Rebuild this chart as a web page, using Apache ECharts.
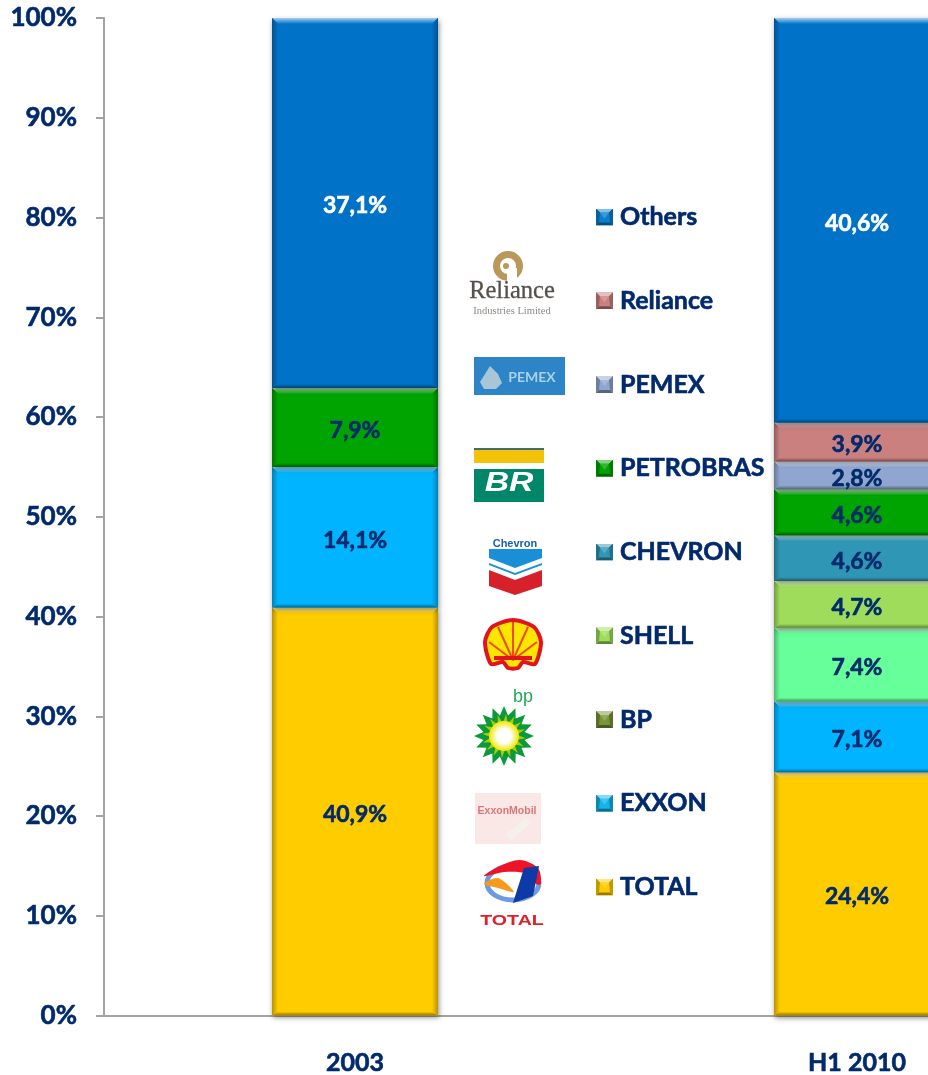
<!DOCTYPE html>
<html><head><meta charset="utf-8">
<style>html,body{margin:0;padding:0;background:#fff;overflow:hidden}#c{width:928px;height:1075px}</style>
<script src="https://cdn.jsdelivr.net/npm/echarts@6/dist/echarts.min.js"></script>
</head><body><div id="c"></div>
<script>
const categories = ['2003', 'H1 2010'];
const yTicksMax = 100;
const seriesNames = ['TOTAL','EXXON','BP','SHELL','CHEVRON','PETROBRAS','PEMEX','Reliance','Others'];
const TOTAL     = [40.9, 24.4];
const EXXON     = [14.1, 7.1];
const BP        = [null, 7.4];
const SHELL     = [null, 4.7];
const CHEVRON   = [null, 4.6];
const PETROBRAS = [7.9, 4.6];
const PEMEX     = [null, 2.8];
const Reliance  = [null, 3.9];
const Others    = [37.1, 40.6];
const seriesValues = [TOTAL,EXXON,BP,SHELL,CHEVRON,PETROBRAS,PEMEX,Reliance,Others];
const barColors    = ['#ffcc00','#00b4ff','#66ff99','#9fdc5c','#2f97b5','#00a400','#90a6d0','#cb8080','#0072c8'];
const legendColors = ['#ffcc00','#12b5e8','#7a9438','#9fdc5c','#2f97b5','#00a400','#90a6d0','#cb8080','#0a7fd0'];
const labelColors  = ['#002a6c','#002a6c','#002a6c','#002a6c','#002a6c','#002a6c','#002a6c','#002a6c','#ffffff'];

const NAVY = '#002a6c', GREY = '#a3a3a3', FONT = 'Lato';

function mix(hex, target, t){
  const p = s => [1,3,5].map(i => parseInt(s.substr(i,2),16));
  const a = p(hex), b = p(target);
  return 'rgb(' + a.map((v,i) => Math.round(v + (b[i]-v)*t)).join(',') + ')';
}
function grad(x0,y0,x1,y1,c0,c1){ return new echarts.graphic.LinearGradient(x0,y0,x1,y1,[{offset:0,color:c0},{offset:1,color:c1}]); }
function bevelIcon(c){
  const svg = '<svg xmlns="http://www.w3.org/2000/svg" width="17" height="17">' +
    '<rect width="17" height="17" fill="'+c+'"/>' +
    '<polygon points="0,0 17,0 13,4 4,4" fill="'+mix(c,'#ffffff',.5)+'"/>' +
    '<polygon points="4,4 13,4 8.5,10" fill="'+mix(c,'#ffffff',.2)+'"/>' +
    '<polygon points="0,17 17,17 14,14 3,14" fill="'+mix(c,'#000000',.4)+'"/>' +
    '<polygon points="0,0 4,4 3,14 0,17" fill="'+mix(c,'#000000',.25)+'"/>' +
    '<polygon points="17,0 13,4 14,14 17,17" fill="'+mix(c,'#000000',.25)+'"/></svg>';
  return 'image://data:image/svg+xml;charset=utf-8,' + encodeURIComponent(svg);
}
function columnTotal(i){ return seriesValues.reduce((s,v) => s + (v[i] || 0), 0); }
function baseBelow(si, i){ let s = 0; for (let k = 0; k < si; k++) s += seriesValues[k][i] || 0; return s; }

function makeRender(si){
  return function(params, api){
    const i = api.value(0), v = api.value(1);
    if (!(v > 0)) return null;
    const norm = 100 / columnTotal(i);
    const lo = baseBelow(si, i) * norm, hi = lo + v * norm;
    const pLo = api.coord([i, lo]), pHi = api.coord([i, hi]);
    const w = api.size([1, 0])[0] * 166 / 502;
    const x = pLo[0] - w/2, y = pHi[1], h = pLo[1] - pHi[1];
    const c = barColors[si], b = 6, bb = 4, r = x + w, B = y + h;
    const dark = mix(c,'#000000',.42), dk2 = mix(c,'#000000',.28), lt = mix(c,'#ffffff',.65);
    const els = [
      {type:'rect', shape:{x,y,width:w,height:h}, style:{fill:c, shadowBlur:5, shadowColor:'rgba(0,0,0,.45)', shadowOffsetX:1, shadowOffsetY:2}},
      {type:'polygon', shape:{points:[[x,y],[r,y],[r-b,y+b],[x+b,y+b]]}, style:{fill:grad(0,0,0,1,lt,c)}},
      {type:'polygon', shape:{points:[[x,B],[r,B],[r-b,B-bb],[x+b,B-bb]]}, style:{fill:grad(0,1,0,0,dark,c)}},
      {type:'polygon', shape:{points:[[x,y],[x+b,y+b],[x+b,B-bb],[x,B]]}, style:{fill:grad(0,0,1,0,dk2,c)}},
      {type:'polygon', shape:{points:[[r,y],[r-b,y+b],[r-b,B-bb],[r,B]]}, style:{fill:grad(1,0,0,0,dk2,c)}},
      {type:'text', style:{text:v.toFixed(1).replace('.',',')+'%', x:pLo[0], y:y+h/2+3, align:'center', verticalAlign:'middle',
        fill:labelColors[si], stroke:labelColors[si], lineWidth:.6, font:'bold 23px '+FONT}}
    ];
    return {type:'group', children:els};
  };
}

function logos(){
  const g = [];
  const rect=(x,y,width,height,fill)=>g.push({type:'rect',shape:{x,y,width,height},style:{fill},silent:true});
  const txt=(text,x,y,font,fill,extra,scaleX)=>g.push({type:'text',x,y,scaleX:scaleX||1,silent:true,style:Object.assign({text,font,fill,align:'center',verticalAlign:'middle'},extra||{})});
  const poly=(points,fill,smooth,stroke,lw)=>g.push({type:'polygon',shape:{points,smooth:smooth||0},style:{fill,stroke,lineWidth:lw||0},silent:true});
  // Reliance
  g.push({type:'ring',shape:{cx:508,cy:266,r:15,r0:8},style:{fill:'#b9985a'},silent:true});
  rect(507,268,10,13,'#ffffff');
  g.push({type:'circle',shape:{cx:506,cy:266,r:3},style:{fill:'#b9985a'},silent:true});
  txt('Reliance',512,292,'24.5px "Liberation Serif"','#55504c',{stroke:'#55504c',lineWidth:.3});
  txt('Industries Limited',512,311,'10.5px "Liberation Serif"','#8d8985');
  // Pemex
  rect(474,357,91,38,'#2d84c6');
  poly([[490,366],[498,374],[502,383],[496,389],[484,389],[480,382]],'#a9c6d8');
  txt('PEMEX',532,377,'bold 14px '+FONT,'#a9d0e8');
  // Petrobras
  rect(474,448,70,54,'#00876a');
  rect(474,448,70,2,'#3d6f6f');
  rect(474,450,70,13,'#f4c20a');
  rect(474,463,70,6,'#ffffff');
  txt('BR',509,484,'italic bold 27px "Liberation Sans"','#ffffff',null,1.25);
  // Chevron
  txt('Chevron',515,544,'bold 11px "Liberation Sans"','#1d5fae');
  poly([[489,549],[542,549],[542,565],[515,575],[489,565]],'#1a8fd8');
  poly([[489,558],[515,568],[542,558],[542,563],[515,573],[489,563]],'#ffffff');
  poly([[489,568],[515,578],[542,568],[542,586],[515,595],[489,586]],'#d6202a');
  poly([[489,566],[515,576],[542,566],[542,570],[515,580],[489,570]],'#ffffff');
  // Shell
  poly([[491,664],[485,642],[492,627],[513,620],[534,627],[541,642],[535,664],[523,662],[518,668],[508,668],[503,662]],'#ffe600',.25,'#e2141b',4);
  for (const [x1,y1] of [[489,642],[498,627],[513,622],[528,627],[537,642]])
    g.push({type:'line',shape:{x1,y1,x2:513,y2:660},style:{stroke:'#ef4a10',lineWidth:2},silent:true});
  g.push({type:'line',shape:{x1:494,y1:658,x2:532,y2:658},style:{stroke:'#e2141b',lineWidth:4},silent:true});
  // BP
  txt('bp',523,697,'18px "Liberation Sans"','#1fa85a');
  const sun=[];const cx=504,cy=736;
  for(let k=0;k<32;k++){const a=k*Math.PI/16,r=k%2?21:30;sun.push([cx+r*Math.cos(a),cy+r*Math.sin(a)]);}
  poly(sun,'#0a9a3c');
  const sun2=[];
  for(let k=0;k<32;k++){const a=(k+.5)*Math.PI/16,r=k%2?13:22;sun2.push([cx+r*Math.cos(a),cy+r*Math.sin(a)]);}
  poly(sun2,'#a8cc00');
  g.push({type:'circle',shape:{cx,cy,r:15},style:{fill:new echarts.graphic.RadialGradient(.5,.5,.5,[{offset:0,color:'#ffffff'},{offset:.45,color:'#ffffff'},{offset:1,color:'#f2e600'}])},silent:true});
  // Exxon
  rect(475,793,66,51,'#f9e8e6');
  txt('ExxonMobil',507,811,'bold 10.5px "Liberation Sans"','#d8787a');
  poly([[505,835],[525,818],[532,822],[512,840]],'#f4f0ea');
  // Total
  g.push({type:'ellipse',shape:{cx:513,cy:883,rx:26,ry:17},style:{fill:'#ffffff',stroke:'#6e9be0',lineWidth:5},silent:true});
  poly([[484,876],[500,866],[520,860],[538,868],[541,884],[536,884],[528,874],[505,872]],'#ee1427',.3);
  poly([[524,868],[539,866],[533,896],[513,903]],'#0e3aa8');
  poly([[484,884],[498,878],[514,892],[498,888]],'#f59a1c',.3);
  txt('TOTAL',512,921,'bold 14px "Liberation Sans"','#e0202a',null,1.4);
  return g;
}

const chart = echarts.init(document.getElementById('c'), null, {renderer:'canvas', width:928, height:1075});
const heavy = {textBorderColor:NAVY, textBorderWidth:.6};
chart.setOption({
  animation:false,
  graphic:logos(),
  legend:{
    orient:'vertical', left:591, top:196.5, itemWidth:17, itemHeight:17, itemGap:52.75, selectedMode:false,
    textStyle:Object.assign({color:NAVY, fontFamily:FONT, fontWeight:'bold', fontSize:25, lineHeight:30, padding:[1,0,0,2]},heavy),
    data:seriesNames.slice().reverse().map(n => ({name:n, icon:bevelIcon(legendColors[seriesNames.indexOf(n)])}))
  },
  grid:{left:104, top:18, width:1004, height:997.5, outerBoundsMode:'none'},
  xAxis:{type:'category', data:categories,
    axisLine:{lineStyle:{color:GREY,width:2}},
    axisTick:{length:8,lineStyle:{color:GREY,width:2},alignWithLabel:false},
    axisLabel:Object.assign({color:NAVY,fontFamily:FONT,fontWeight:'bold',fontSize:25,margin:35},heavy)},
  yAxis:{type:'value',min:0,max:yTicksMax,interval:10,
    axisLine:{show:true,lineStyle:{color:GREY,width:2}},
    axisTick:{show:true,length:8,lineStyle:{color:GREY,width:2}},
    splitLine:{show:false},
    axisLabel:Object.assign({color:NAVY,fontFamily:FONT,fontWeight:'bold',fontSize:26,margin:27,padding:[4,0,0,0],formatter:'{value}%'},heavy)},
  series:seriesNames.map((name,si) => ({
    name, type:'custom', clip:false, renderItem:makeRender(si),
    itemStyle:{color:legendColors[si]},
    encode:{x:0,y:1},
    data:seriesValues[si].map((v,i) => [i, v])
  }))
});
</script></body></html>
